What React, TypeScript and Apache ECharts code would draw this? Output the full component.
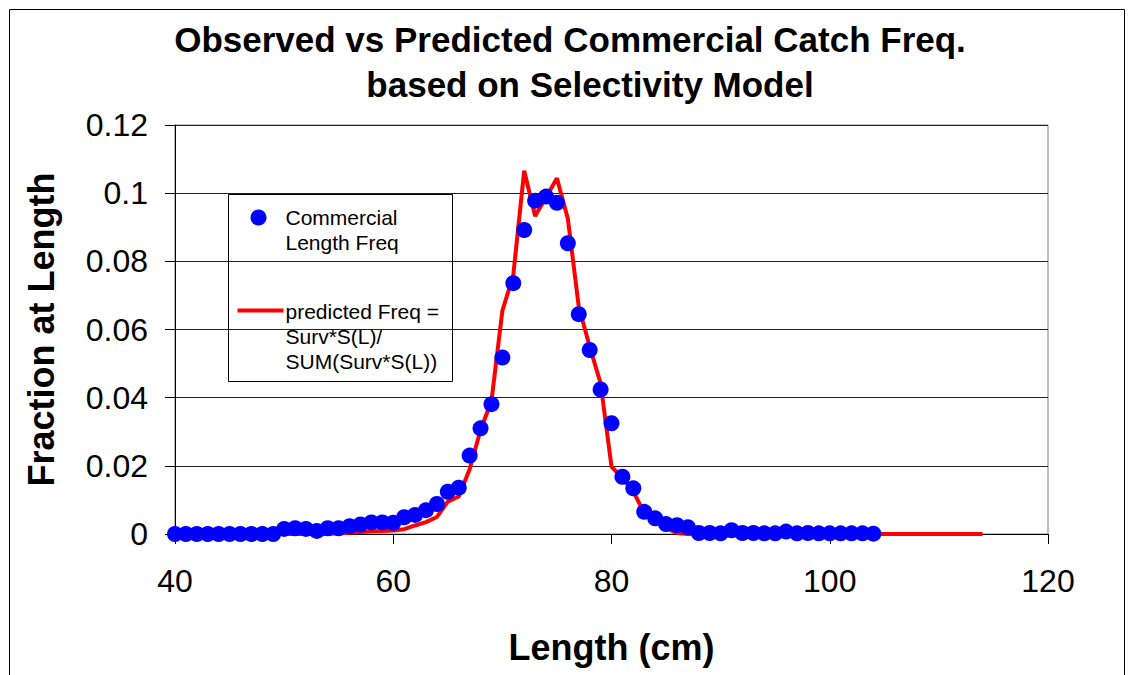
import React, { useEffect, useRef } from "react";
import * as echarts from "echarts";

const observedLengths = [
  40, 41, 42, 43, 44, 45, 46, 47, 48, 49, 50, 51, 52, 53, 54, 55, 56, 57, 58, 59,
  60, 61, 62, 63, 64, 65, 66, 67, 68, 69, 70, 71, 72, 73, 74, 75, 76, 77, 78, 79,
  80, 81, 82, 83, 84, 85, 86, 87, 88, 89, 90, 91, 92, 93, 94, 95, 96, 97, 98, 99,
  100, 101, 102, 103, 104,
];
const observedFreq = [
  0, 0, 0, 0, 0, 0, 0, 0, 0, 0,
  0.0015, 0.0017, 0.0015, 0.0009, 0.0017, 0.0017, 0.0023, 0.0028, 0.0034, 0.0034,
  0.0033, 0.0049, 0.0056, 0.007, 0.0088, 0.0124, 0.0136, 0.023, 0.031, 0.0381,
  0.0518, 0.0736, 0.0892, 0.0978, 0.099, 0.0972, 0.0853, 0.0645, 0.054, 0.0424,
  0.0325, 0.0168, 0.0134, 0.0065, 0.0046, 0.0029, 0.0026, 0.002, 0.0003, 0.0003,
  0.0002, 0.0011, 0.0003, 0.0003, 0.0002, 0.0002, 0.0007, 0.0002, 0.0003, 0.0002,
  0.0002, 0.0002, 0.0002, 0.0002, 0.0001,
];

const predictedLengths = [
  40, 41, 42, 43, 44, 45, 46, 47, 48, 49, 50, 51, 52, 53, 54, 55, 56, 57, 58, 59,
  60, 61, 62, 63, 64, 65, 66, 67, 68, 69, 70, 71, 72, 73, 74, 75, 76, 77, 78, 79,
  80, 81, 82, 83, 84, 85, 86, 87, 88, 89, 90, 91, 92, 93, 94, 95, 96, 97, 98, 99,
  100, 101, 102, 103, 104, 105, 106, 107, 108, 109, 110, 111, 112, 113, 114,
];
const predictedFreq = [
  0, 0, 0, 0, 0, 0, 0, 0, 0, 0,
  0, 0, 0, 0, 0, 0.0002, 0.0004, 0.0006, 0.0008, 0.0009,
  0.001, 0.0014, 0.0025, 0.0035, 0.005, 0.0095, 0.011, 0.019, 0.0305, 0.039,
  0.0655, 0.076, 0.1066, 0.0933, 0.0988, 0.1044, 0.0925, 0.0667, 0.055, 0.0442,
  0.0198, 0.0164, 0.0125, 0.0061, 0.0036, 0.0017, 0.0003, 0, 0, 0,
  0, 0, 0, 0, 0, 0, 0, 0, 0, 0,
  0, 0, 0, 0, 0, 0, 0, 0, 0, 0,
  0, 0, 0, 0, 0,
];

const titleLine1 = "Observed vs Predicted Commercial Catch Freq.";
const titleLine2 = "based on Selectivity Model";
const xAxisTitle = "Length (cm)";
const yAxisTitle = "Fraction at Length";
const observedName = "Commercial\nLength Freq";
const predictedName = "predicted Freq =\nSurv*S(L)/\nSUM(Surv*S(L))";

const FONT = "Liberation Sans, Arial, Helvetica, sans-serif";

export default function App() {
  const ref = useRef<HTMLDivElement>(null);
  useEffect(() => {
    if (!ref.current) return;
    const chart = echarts.init(ref.current, null, { renderer: "svg" });
    const obs = observedLengths.map((x, i) => [x, observedFreq[i]]);
    const pred = predictedLengths.map((x, i) => [x, predictedFreq[i]]);
    const titleStyle = {
      fontFamily: FONT,
      fontSize: 35,
      fontWeight: "bold",
      color: "#000",
    };
    chart.setOption({
      animation: false,
      backgroundColor: "#ffffff",
      textStyle: { fontFamily: FONT },
      title: [
        { text: titleLine1, left: 570, top: 22, textAlign: "center", padding: 0, textStyle: titleStyle },
        { text: titleLine2, left: 590, top: 67, textAlign: "center", padding: 0, textStyle: titleStyle },
      ],
      grid: {
        left: 175,
        right: 92,
        top: 125,
        bottom: 141,
        show: true,
        borderColor: "#808080",
        borderWidth: 1,
        backgroundColor: "transparent",
        containLabel: false,
        outerBoundsMode: "none",
      },
      xAxis: {
        type: "value",
        min: 40,
        max: 120,
        interval: 20,
        name: xAxisTitle,
        nameLocation: "middle",
        nameGap: 95,
        nameTextStyle: { fontFamily: FONT, fontSize: 36, fontWeight: "bold", color: "#000" },
        axisLine: { show: true, onZero: false, lineStyle: { color: "#000", width: 1 } },
        axisTick: { show: true, inside: false, length: 10, lineStyle: { color: "#000" } },
        axisLabel: { fontFamily: FONT, fontSize: 32, color: "#000", margin: 31 },
        splitLine: { show: false },
      },
      yAxis: {
        type: "value",
        min: 0,
        max: 0.12,
        interval: 0.02,
        name: yAxisTitle,
        nameLocation: "middle",
        nameGap: 116,
        nameRotate: 90,
        nameTextStyle: { fontFamily: FONT, fontSize: 36, fontWeight: "bold", color: "#000" },
        axisLine: { show: true, lineStyle: { color: "#000", width: 1 } },
        axisTick: { show: true, inside: false, length: 10, lineStyle: { color: "#000" } },
        axisLabel: {
          fontFamily: FONT,
          fontSize: 32,
          color: "#000",
          margin: 27,
          formatter: (v: number) => String(Math.round(v * 100) / 100),
        },
        splitLine: { show: true, lineStyle: { color: "#222", width: 1 } },
      },
      graphic: [
        {
          type: "rect",
          left: 7,
          top: 7,
          shape: { width: 1115, height: 680 },
          style: { fill: "none", stroke: "#000", lineWidth: 1 },
          silent: true,
          z: -10,
        },
        {
          type: "group",
          left: 228,
          top: 194,
          z: 100,
          children: [
            {
              type: "rect",
              shape: { x: 0, y: 0, width: 224, height: 187 },
              style: { fill: "#fff", stroke: "#000", lineWidth: 1 },
            },
            {
              type: "circle",
              shape: { cx: 30, cy: 23, r: 8 },
              style: { fill: "#0000ff" },
            },
            {
              type: "text",
              x: 57,
              y: 10,
              style: {
                text: observedName,
                font: `21px ${FONT}`,
                fill: "#000",
                lineHeight: 25,
              },
            },
            {
              type: "line",
              shape: { x1: 9, y1: 116, x2: 55, y2: 116 },
              style: { stroke: "#ff0000", lineWidth: 4 },
            },
            {
              type: "text",
              x: 57,
              y: 104,
              style: {
                text: predictedName,
                font: `21px ${FONT}`,
                fill: "#000",
                lineHeight: 25,
              },
            },
          ],
        },
      ],
      series: [
        {
          name: "predicted Freq = Surv*S(L)/SUM(Surv*S(L))",
          type: "line",
          data: pred,
          showSymbol: false,
          symbol: "none",
          lineStyle: { color: "#ff0000", width: 4 },
          itemStyle: { color: "#ff0000" },
          z: 2,
        },
        {
          name: "Commercial Length Freq",
          type: "scatter",
          data: obs,
          symbol: "circle",
          symbolSize: 16,
          itemStyle: { color: "#0000ff", opacity: 1 },
          z: 3,
        },
      ],
    });
    return () => chart.dispose();
  }, []);
  return (
    <div
      ref={ref}
      style={{ position: "fixed", left: 0, top: 0, width: 1140, height: 675, background: "#fff" }}
    />
  );
}
